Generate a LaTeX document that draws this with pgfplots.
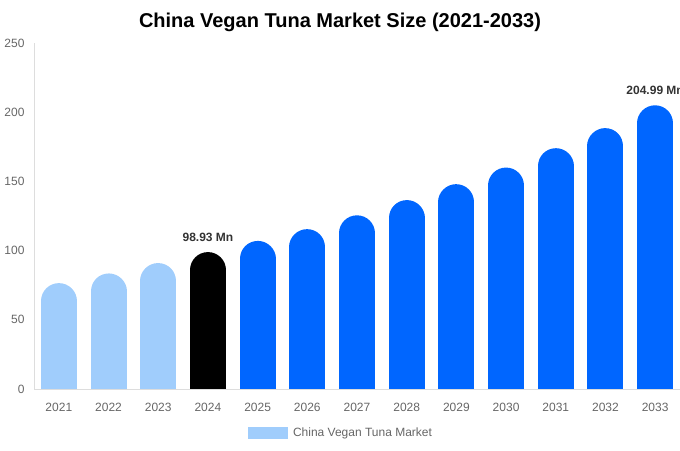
\documentclass[border=0pt]{standalone}
\usepackage{pgfplots}
\pgfplotsset{compat=1.18}
\usepackage{fontspec}
\setmainfont{Liberation Sans}

\definecolor{lightbar}{HTML}{A0CDFC}
\definecolor{bluebar}{HTML}{0066FF}
\definecolor{axisgray}{HTML}{DDDDDD}
\definecolor{ticktext}{HTML}{666666}
\definecolor{labeltext}{HTML}{333333}

% one bar = a thick comb with a round cap; the cap below 0 is clipped away
\pgfplotsset{pill/.style={ycomb, mark=none, line width=36pt, line cap=round,
    shorten >=18pt, color=#1}}

\begin{document}
\begin{tikzpicture}[font=\fontsize{12pt}{14pt}\selectfont]
  \begin{axis}[
      at={(0pt,0pt)}, anchor=south west,
      scale only axis,
      width=646pt, height=346pt,
      xmin=-0.5, xmax=12.5,
      ymin=0, ymax=250,
      ytick={0,50,100,150,200,250},
      xtick={0,...,12},
      xticklabels={2021,2022,2023,2024,2025,2026,2027,2028,2029,2030,2031,2032,2033},
      axis x line*=bottom, axis y line*=left,
      axis line style={draw=axisgray},
      axis on top,
      major tick length=0pt,
      tick label style={text=ticktext, font=\fontsize{12pt}{14pt}\selectfont},
      xticklabel style={yshift=-11pt},
      yticklabel style={xshift=-6pt},
      /pgf/number format/assume math mode=true,
      legend style={at={(rel axis cs:0.4737,0)}, anchor=center,
        xshift=1pt, yshift=-44pt, column sep=4pt,
        draw=none, fill=none, font=\fontsize{12pt}{14pt}\selectfont, text=ticktext,
        inner sep=0pt},
      legend image code/.code={\fill[lightbar, line width=0pt] (0pt,-5.5pt) rectangle (39pt,5.5pt);},
    ]
    \addplot[pill=lightbar] coordinates {(0,76.5)};
    \addlegendentry{China Vegan Tuna Market}
    \addplot[pill=lightbar, forget plot] coordinates {(1,83.5)};
    \addplot[pill=lightbar, forget plot] coordinates {(2,91)};
    \addplot[pill=black,    forget plot] coordinates {(3,98.93)};
    \addplot[pill=bluebar,  forget plot] coordinates {(4,107)};
    \addplot[pill=bluebar,  forget plot] coordinates {(5,115.5)};
    \addplot[pill=bluebar,  forget plot] coordinates {(6,125.5)};
    \addplot[pill=bluebar,  forget plot] coordinates {(7,136.5)};
    \addplot[pill=bluebar,  forget plot] coordinates {(8,148)};
    \addplot[pill=bluebar,  forget plot] coordinates {(9,160)};
    \addplot[pill=bluebar,  forget plot] coordinates {(10,174)};
    \addplot[pill=bluebar,  forget plot] coordinates {(11,188.5)};
    \addplot[pill=bluebar,  forget plot] coordinates {(12,204.99)};
    \node[anchor=south, yshift=7pt, text=labeltext, font=\bfseries\fontsize{12pt}{14pt}\selectfont]
      at (axis cs:3,98.93) {98.93 Mn};
    \node[anchor=south, yshift=7pt, text=labeltext, font=\bfseries\fontsize{12pt}{14pt}\selectfont]
      at (axis cs:12,204.99) {204.99 Mn};
  \end{axis}
  \node[font=\bfseries\fontsize{20pt}{24pt}\selectfont] at (306pt,367pt)
    {China Vegan Tuna Market Size (2021-2033)};
  \pgfresetboundingbox
  \useasboundingbox (-34pt,-61pt) rectangle (646pt,389pt);
\end{tikzpicture}
\end{document}
